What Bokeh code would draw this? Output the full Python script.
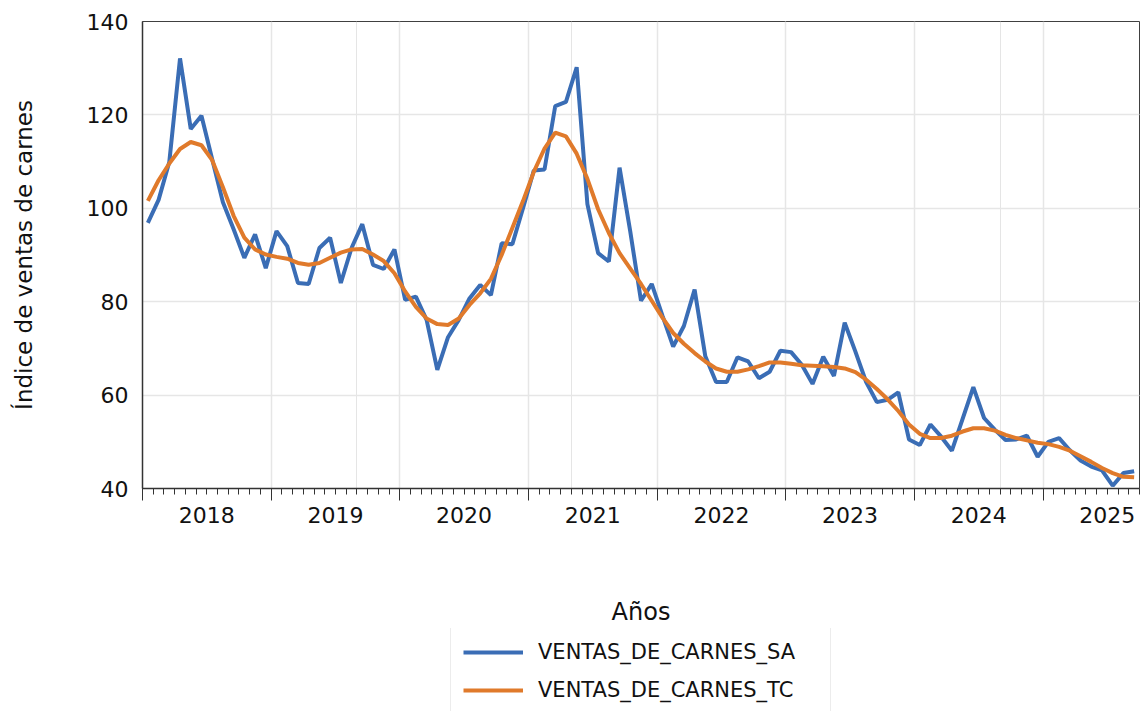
from bokeh.plotting import figure
from bokeh.layouts import column
from bokeh.models import LinearAxis, FixedTicker, Range1d, Legend, LegendItem, Grid
from bokeh.embed import file_html
from bokeh.resources import INLINE

# ---------------- data ----------------
years = ["2018", "2019", "2020", "2021", "2022", "2023", "2024", "2025"]

ventas_de_carnes_sa = [
    96.9, 101.8, 109.9, 132.1, 117.0, 119.8, 110.5, 101.3, 95.5, 89.4, 94.4, 87.2,
    95.1, 91.9, 84.0, 83.8, 91.5, 93.7, 84.0, 91.5, 96.6, 87.9, 87.0, 91.2,
    80.4, 81.1, 76.1, 65.4, 72.4, 76.1, 80.7, 83.6, 81.4, 92.5, 92.3, 100.1,
    108.1, 108.3, 121.9, 122.8, 130.2, 100.9, 90.4, 88.6, 108.7, 95.0, 80.2, 83.8,
    77.0, 70.4, 74.8, 82.6, 68.3, 62.8, 62.8, 68.1, 67.2, 63.6, 65.0, 69.5,
    69.2, 66.5, 62.4, 68.2, 64.1, 75.5, 69.3, 62.8, 58.5, 59.0, 60.6, 50.5,
    49.3, 53.7, 51.1, 48.1, 54.9, 61.7, 55.1, 52.6, 50.4, 50.5, 51.3, 46.8,
    50.0, 50.8, 48.2, 46.0, 44.7, 43.9, 40.6, 43.3, 43.7,
]

ventas_de_carnes_tc = [
    101.6, 106.0, 109.6, 112.7, 114.2, 113.5, 110.3, 104.5, 98.4, 93.7, 91.2, 90.1,
    89.6, 89.2, 88.3, 87.9, 88.3, 89.4, 90.5, 91.2, 91.3, 90.1, 88.7, 86.1,
    82.2, 78.9, 76.4, 75.2, 75.0, 76.4, 79.3, 81.8, 84.9, 90.0, 95.8, 101.6,
    107.8, 112.8, 116.2, 115.4, 111.7, 106.3, 99.8, 94.7, 90.4, 87.1, 83.8, 80.2,
    76.6, 73.3, 71.0, 69.0, 67.2, 65.7, 65.0, 65.0, 65.5, 66.2, 67.0, 67.0,
    66.7, 66.4, 66.3, 66.2, 66.0, 65.7, 64.9, 63.3, 61.3, 59.1, 56.6, 53.7,
    51.7, 50.8, 50.8, 51.3, 52.2, 52.9, 52.9, 52.4, 51.5, 50.8, 50.3, 49.8,
    49.5, 48.9, 48.1, 46.9, 45.7, 44.4, 43.3, 42.5, 42.4,
]

series_names = ["VENTAS_DE_CARNES_SA", "VENTAS_DE_CARNES_TC"]
series_values = [ventas_de_carnes_sa, ventas_de_carnes_tc]
series_colors = ["#3a6db5", "#e07a2b"]
y_ticks = [40, 60, 80, 100, 120, 140]

# months since Jan 2018, each point drawn at the middle of its month
n = len(ventas_de_carnes_sa)
x_mid = [i + 0.5 for i in range(n)]
year_start = [12 * k for k in range(len(years))]
year_mid = [12 * k + 6 for k in range(len(years))]

FONT = "DejaVu Sans"
TXT = "#111111"
LW = 4

p = figure(width=1145, height=628, output_backend="svg", toolbar_location=None,
           x_range=Range1d(0, n), y_range=Range1d(40, 140),
           x_axis_location=None, y_axis_location=None,
           min_border_left=142, min_border_right=6, min_border_top=21,
           min_border_bottom=140)
p.outline_line_color = "#404040"
p.outline_line_width = 1
p.background_fill_color = "white"
p.border_fill_color = "white"

# grids
p.add_layout(Grid(dimension=0, ticker=FixedTicker(ticks=year_start[1:]),
                  grid_line_color="#e6e6e6", grid_line_width=1.5))
p.add_layout(Grid(dimension=1, ticker=FixedTicker(ticks=y_ticks[1:-1]),
                  grid_line_color="#e6e6e6", grid_line_width=1.5))

# x axis: tick marks (years long, months short)
ax_ticks = LinearAxis(
    ticker=FixedTicker(ticks=year_start, minor_ticks=list(range(0, n + 1))),
    major_tick_out=12, major_tick_in=0, minor_tick_out=6, minor_tick_in=0,
    major_tick_line_color="#333333", minor_tick_line_color="#333333",
    major_label_overrides={t: "" for t in year_start},
    major_label_text_font_size="0px", major_label_standoff=0,
    axis_line_color="#333333", axis_line_width=1.5)
p.add_layout(ax_ticks, "below")

# x axis: year labels centred in each year
ax_labels = LinearAxis(
    ticker=FixedTicker(ticks=year_mid),
    major_label_overrides={m: y for m, y in zip(year_mid, years)},
    major_tick_out=0, major_tick_in=0, minor_tick_out=0, minor_tick_in=0,
    axis_line_color=None,
    major_label_text_font=FONT, major_label_text_font_size="22px",
    major_label_text_color=TXT, major_label_standoff=6,
    axis_label="Años", axis_label_text_font=FONT, axis_label_text_font_size="24px",
    axis_label_text_font_style="normal", axis_label_text_color=TXT,
    axis_label_standoff=72)
p.add_layout(ax_labels, "below")

# y axis
yax = LinearAxis(
    ticker=FixedTicker(ticks=y_ticks),
    major_tick_out=0, major_tick_in=0, minor_tick_out=0, minor_tick_in=0,
    major_label_standoff=14, major_label_text_font=FONT,
    major_label_text_font_size="22px", major_label_text_color=TXT,
    axis_label="Índice de ventas de carnes", axis_label_text_font=FONT,
    axis_label_text_font_size="23px", axis_label_text_font_style="normal",
    axis_label_text_color=TXT, axis_label_standoff=47,
    axis_line_color="#333333", axis_line_width=1.5)
p.add_layout(yax, "left")

for vals, col in zip(series_values, series_colors):
    p.line(x_mid, vals, line_color=col, line_width=LW)

# ---------------- legend strip below the chart ----------------
# (its frame is aligned with the main chart's frame by the column layout;
#  the series are drawn out of its visible y range, only the legend shows)
leg_h = 83
pl = figure(width=1145, height=leg_h, output_backend="svg", toolbar_location=None,
            x_range=Range1d(0, n), y_range=Range1d(1000, 1001),
            x_axis_location=None, y_axis_location=None,
            min_border_left=0, min_border_right=0,
            min_border_top=0, min_border_bottom=0)
pl.outline_line_color = None
pl.grid.visible = False
pl.background_fill_color = "white"
pl.border_fill_color = "white"

items = []
for name, vals, col in zip(series_names, series_values, series_colors):
    r = pl.line(x_mid, vals, line_color=col, line_width=LW)
    items.append(LegendItem(label=name, renderers=[r]))

legend = Legend(
    items=items, location=(308, -4), orientation="vertical",
    label_text_font=FONT, label_text_font_size="21px", label_text_color=TXT,
    border_line_color="#d9d9d9", border_line_width=1,
    background_fill_color="white", background_fill_alpha=1.0,
    padding=12, spacing=14, margin=0,
    glyph_width=60, glyph_height=24, label_height=24, label_standoff=15,
    label_width=280)
pl.add_layout(legend)

layout = column(p, pl, spacing=0)
open("out.html", "w").write(file_html(layout, INLINE))
